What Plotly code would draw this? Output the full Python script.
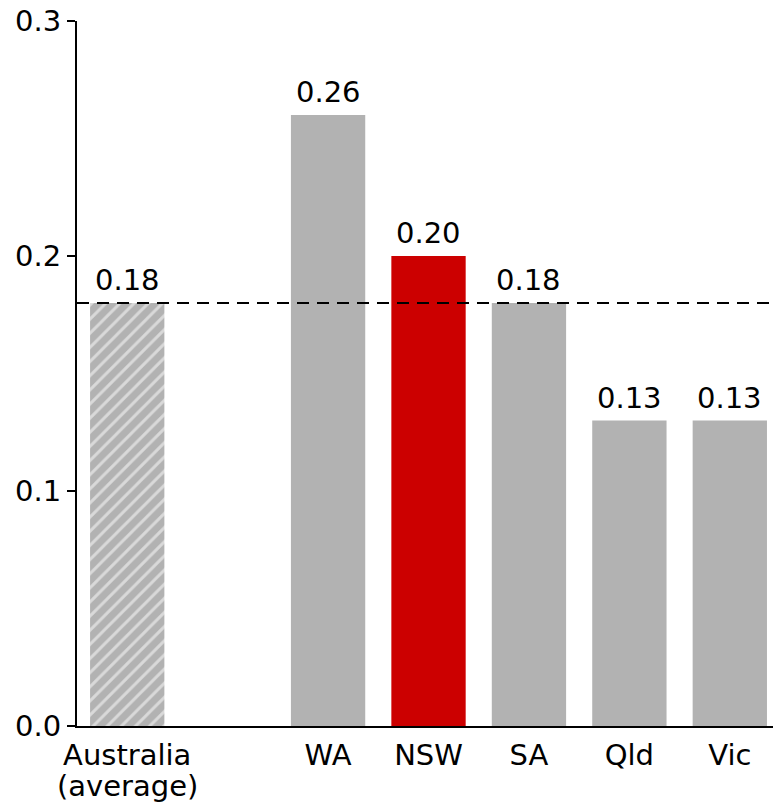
import plotly.graph_objects as go

categories = ["Australia<br>(average)", "WA", "NSW", "SA", "Qld", "Vic"]
positions = [0, 2, 3, 4, 5, 6]
values = [0.18, 0.26, 0.20, 0.18, 0.13, 0.13]
labels = ["0.18", "0.26", "0.20", "0.18", "0.13", "0.13"]
average = 0.18
y_ticks = [0.0, 0.1, 0.2, 0.3]

gray = "#b2b2b2"
red = "#cc0000"
font = "DejaVu Sans"
fs = 29

fig = go.Figure()

# hatched average bar
fig.add_trace(go.Bar(
    x=positions[:1], y=values[:1], width=0.74,
    marker=dict(color=gray, line=dict(width=0),
                pattern=dict(shape="/", fgcolor="white", size=10, solidity=0.3,
                             fillmode="overlay")),
))

colors = [gray, red, gray, gray, gray]
fig.add_trace(go.Bar(
    x=positions[1:], y=values[1:], width=0.74,
    marker=dict(color=colors, line=dict(width=0)),
))

for xp, v, lab in zip(positions, values, labels):
    fig.add_annotation(x=xp, y=v, text=lab, showarrow=False, yanchor="bottom",
                       xanchor="center", yshift=4,
                       font=dict(family=font, size=fs, color="black"))

# category labels: first line as tick text, further lines as tighter-spaced text
first_lines = [c.split("<br>")[0] for c in categories]
for xp, c in zip(positions, categories):
    parts = c.split("<br>")
    for i, extra in enumerate(parts[1:], start=1):
        fig.add_annotation(x=xp, y=0, yref="paper", text=extra, showarrow=False,
                           yanchor="top", xanchor="center", yshift=-8 - 33 * i,
                           font=dict(family=font, size=fs, color="black"))

fig.add_shape(type="line", xref="paper", yref="y", x0=0, x1=1, y0=average, y1=average,
              line=dict(color="black", width=2, dash="12px,8px"))

fig.update_layout(
    width=773, height=806,
    margin=dict(l=77, r=0, t=21, b=80),
    plot_bgcolor="white", paper_bgcolor="white",
    showlegend=False,
    font=dict(family=font, size=fs, color="black"),
    xaxis=dict(range=[-0.5, 6.43], tickvals=positions, ticktext=first_lines,
               showgrid=False, zeroline=False, showline=True, linecolor="black",
               linewidth=2, ticks="", ticklabelstandoff=2, automargin=False,
               tickfont=dict(family=font, size=fs, color="black")),
    yaxis=dict(range=[0, 0.3], tickvals=y_ticks, tickformat=".1f", automargin=False,
               showgrid=False, zeroline=False, showline=True, linecolor="black",
               linewidth=2, ticks="outside", ticklen=8, tickwidth=2, tickcolor="black",
               tickfont=dict(family=font, size=fs, color="black")),
)

fig.write_html("out.html")
